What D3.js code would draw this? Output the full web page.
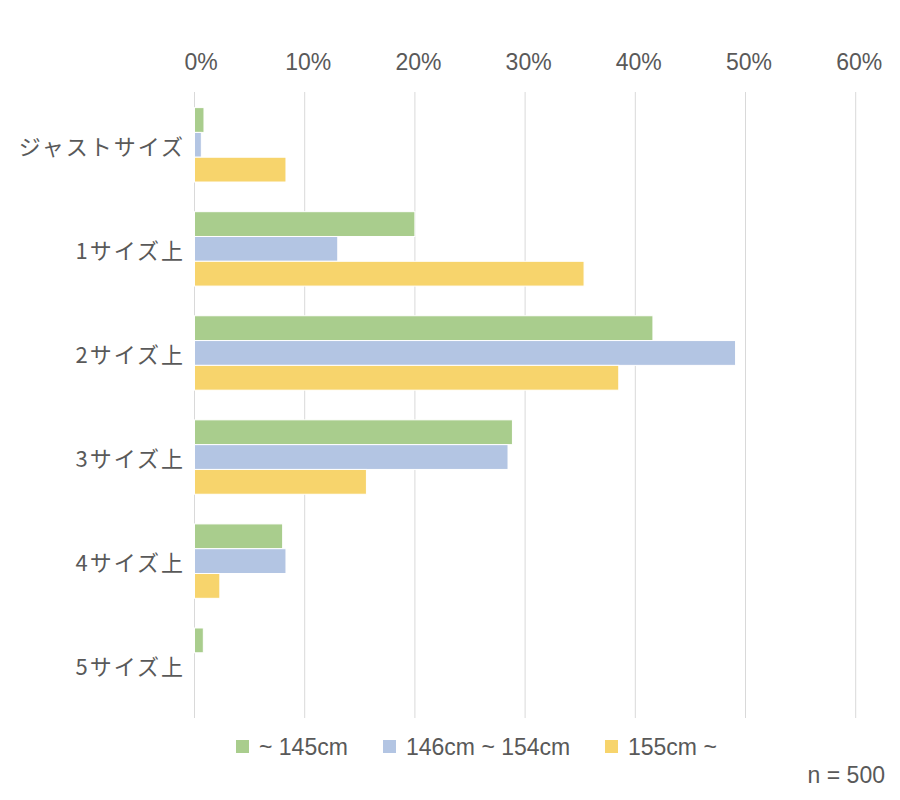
<!DOCTYPE html>
<html><head><meta charset="utf-8">
<script src="https://cdn.jsdelivr.net/npm/d3@7"></script>
<style>body{margin:0;background:#fff}</style>
</head><body>
<script>
const categories = ["ジャストサイズ","1サイズ上","2サイズ上","3サイズ上","4サイズ上","5サイズ上"];
const seriesNames = ["~ 145cm","146cm ~ 154cm","155cm ~"];
const seriesColors = ["#a9cd8d","#b3c5e3","#f7d46c"];
const s1 = [0.86, 20.0, 41.6, 28.85, 8.0, 0.8];
const s2 = [0.62, 13.0, 49.1, 28.45, 8.3, 0];
const s3 = [8.3, 35.35, 38.5, 15.6, 2.3, 0];
const tickValues = [0,10,20,30,40,50,60];
const note = "n = 500";

(function(){
const W=900,H=800;
const svg=d3.select("body").append("svg").attr("width",W).attr("height",H);
const mLeft=194.5,mRight=855.7,mTop=92,mBottom=718;
const x=d3.scaleLinear().domain([0,60]).range([mLeft,mRight]);
const y=d3.scaleBand().domain(categories).range([mTop,mBottom]).paddingInner(0.285).paddingOuter(0.15);
const yIn=d3.scaleBand().domain([0,1,2]).range([0,y.bandwidth()]);
const textColor="#595959";

svg.append("g").selectAll("line").data(tickValues).join("line")
  .attr("x1",d=>x(d)).attr("x2",d=>x(d)).attr("y1",mTop).attr("y2",mBottom)
  .attr("stroke","#d9d9d9").attr("stroke-width",1);

const ax=d3.axisTop(x).tickValues(tickValues).tickSize(0).tickFormat(d=>d+"%");
const axg=svg.append("g").attr("transform",`translate(0,${70})`).call(ax);
axg.select(".domain").remove();
axg.selectAll("text").attr("fill",textColor).attr("font-size",23)
  .attr("font-family","'Liberation Sans',Arial,sans-serif").attr("dy",0).attr("y",0)
  .attr("dx",d=>d===0?6:3);

const series=[s1,s2,s3];
series.forEach((vals,si)=>{
  svg.append("g").selectAll("rect").data(vals).join("rect")
    .attr("x",x(0)).attr("y",(d,i)=>y(categories[i])+yIn(si))
    .attr("width",d=>Math.max(0,x(d)-x(0))).attr("height",yIn.bandwidth())
    .attr("fill",seriesColors[si]).attr("stroke","#fff").attr("stroke-width",1)
    .style("display",d=>d>0?null:"none");
});

svg.append("g").selectAll("text").data(categories).join("text")
  .attr("x",185).attr("y",d=>y(d)+y.bandwidth()/2).attr("dy","0.45em")
  .attr("text-anchor","end").attr("fill",textColor).attr("font-size",22)
  .attr("letter-spacing","2px")
  .attr("font-family","'Noto Sans CJK JP',sans-serif").text(d=>d);

const legX=[236,383,605];
const lg=svg.append("g");
seriesNames.forEach((n,i)=>{
  lg.append("rect").attr("x",legX[i]).attr("y",740).attr("width",13).attr("height",13).attr("fill",seriesColors[i]);
  lg.append("text").attr("x",legX[i]+23).attr("y",755).attr("fill",textColor).attr("font-size",23)
    .attr("font-family","'Liberation Sans',Arial,sans-serif").text(n);
});
svg.append("text").attr("x",885).attr("y",783).attr("text-anchor","end").attr("fill",textColor)
  .attr("font-size",23).attr("font-family","'Liberation Sans',Arial,sans-serif").text(note);
})();
</script>
</body></html>
